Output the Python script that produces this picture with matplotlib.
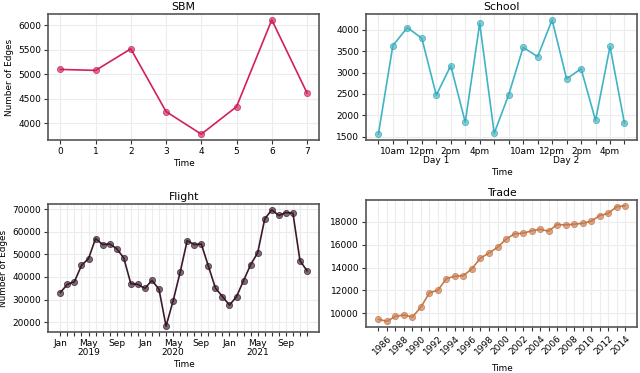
import matplotlib.pyplot as plt
import numpy as np

# SBM
sbm_time = [0, 1, 2, 3, 4, 5, 6, 7]
sbm_edges = [5100, 5080, 5520, 4240, 3780, 4340, 6110, 4620]

# School (9 windows per day, 2 days)
school_edges = [1560, 3630, 4050, 3800, 2470, 3160, 1840, 4150, 1580,
                2480, 3590, 3370, 4230, 2850, 3090, 1880, 3610, 1810]
school_hour_labels = ["10am", "12pm", "2pm", "4pm"]
school_hour_idx = [1, 3, 5, 7]
school_day_labels = ["Day 1", "Day 2"]
school_day_pos = [4, 13]

# Flight (monthly, Jan 2019 - Dec 2021)
flight_edges = [33100, 36700, 37900, 45100, 48100, 57000, 54300, 54600, 52500, 48400, 37000, 36700,
                34900, 38500, 34500, 18200, 29400, 42100, 56100, 54300, 54600, 44800, 35100, 31300,
                27500, 31300, 38400, 45400, 50700, 65700, 69700, 67200, 68500, 68200, 47200, 42700]
flight_years = [2019, 2020, 2021]

# Trade (yearly, 1985 - 2014)
trade_years = list(range(1985, 2015))
trade_edges = [9480, 9300, 9740, 9855, 9680, 10550, 11800, 12030, 13040, 13250,
               13300, 13910, 14840, 15280, 15770, 16490, 16960, 17010, 17220, 17360,
               17190, 17770, 17740, 17800, 17880, 18060, 18550, 18750, 19330, 19420]

TICK_FS = 6.5
LABEL_FS = 6.4
TITLE_FS = 7.8

plt.rcParams["font.family"] = "DejaVu Sans"

fig = plt.figure(figsize=(6.4, 3.73), dpi=100)

ax_sbm = fig.add_axes([0.075, 0.625, 0.424, 0.337])
ax_school = fig.add_axes([0.572, 0.625, 0.423, 0.337])
ax_flight = fig.add_axes([0.075, 0.110, 0.424, 0.343])
ax_trade = fig.add_axes([0.572, 0.123, 0.424, 0.341])


def style_axes(ax, title):
    ax.set_title(title, fontsize=TITLE_FS, pad=3)
    ax.grid(True, color="#ececec", linewidth=0.8)
    ax.set_axisbelow(True)
    for sp in ax.spines.values():
        sp.set_color("#555555")
        sp.set_linewidth(1.2)
    ax.tick_params(length=3, width=0.8, color="#333333", labelsize=TICK_FS, pad=2)
    ax.set_xlabel("Time", fontsize=LABEL_FS, labelpad=2)


def draw(ax, x, y, color, edge):
    ax.plot(x, y, color=color, linewidth=1.2, zorder=2)
    ax.scatter(x, y, s=20, color=color, alpha=0.65, edgecolors=edge, linewidths=0.6, zorder=3)


# SBM
draw(ax_sbm, sbm_time, sbm_edges, "#d41f5c", "#b0144a")
ax_sbm.set_xticks(sbm_time)
ax_sbm.set_yticks([4000, 4500, 5000, 5500, 6000])
ax_sbm.set_ylabel("Number of Edges", fontsize=LABEL_FS)
style_axes(ax_sbm, "SBM")
ax_sbm.yaxis.set_label_coords(-0.125, 0.5)

# School
sx = np.arange(len(school_edges))
draw(ax_school, sx, school_edges, "#3fb4c4", "#2a9aaa")
ax_school.xaxis.remove_overlapping_locs = False
ax_school.set_xticks(sx)
hour_labels = [""] * len(sx)
for day in range(2):
    for idx, lab in zip(school_hour_idx, school_hour_labels):
        hour_labels[day * 9 + idx] = lab
ax_school.set_xticklabels(hour_labels)
ax_school.set_xticks(school_day_pos, minor=True)
ax_school.set_xticklabels(school_day_labels, minor=True)
ax_school.set_yticks([1500, 2000, 2500, 3000, 3500, 4000])
style_axes(ax_school, "School")
ax_school.tick_params(axis="x", which="minor", length=0, pad=11.5, labelsize=TICK_FS)
ax_school.grid(False, which="minor")

# Flight
fx = np.arange(len(flight_edges))
draw(ax_flight, fx, flight_edges, "#3a1a2c", "#1e0a16")
ax_flight.set_xticks(fx)
flabels = []
for i in fx:
    m = i % 12
    if m == 0:
        flabels.append("Jan")
    elif m == 4:
        flabels.append("May\n" + str(flight_years[i // 12]))
    elif m == 8:
        flabels.append("Sep")
    else:
        flabels.append("")
ax_flight.set_xticklabels(flabels, linespacing=1.0)
ax_flight.set_yticks([20000, 30000, 40000, 50000, 60000, 70000])
ax_flight.set_ylabel("Number of Edges", fontsize=LABEL_FS)
style_axes(ax_flight, "Flight")
ax_flight.yaxis.set_label_coords(-0.146, 0.5)

# Trade
draw(ax_trade, trade_years, trade_edges, "#c97a4a", "#b8663a")
ax_trade.set_xticks(trade_years)
ax_trade.set_xticklabels([str(y) if y % 2 == 0 else "" for y in trade_years],
                         rotation=45, ha="right", rotation_mode="anchor")
ax_trade.set_yticks([10000, 12000, 14000, 16000, 18000])
style_axes(ax_trade, "Trade")
ax_trade.xaxis.labelpad = 5

fig.savefig("out.png", dpi=100)
